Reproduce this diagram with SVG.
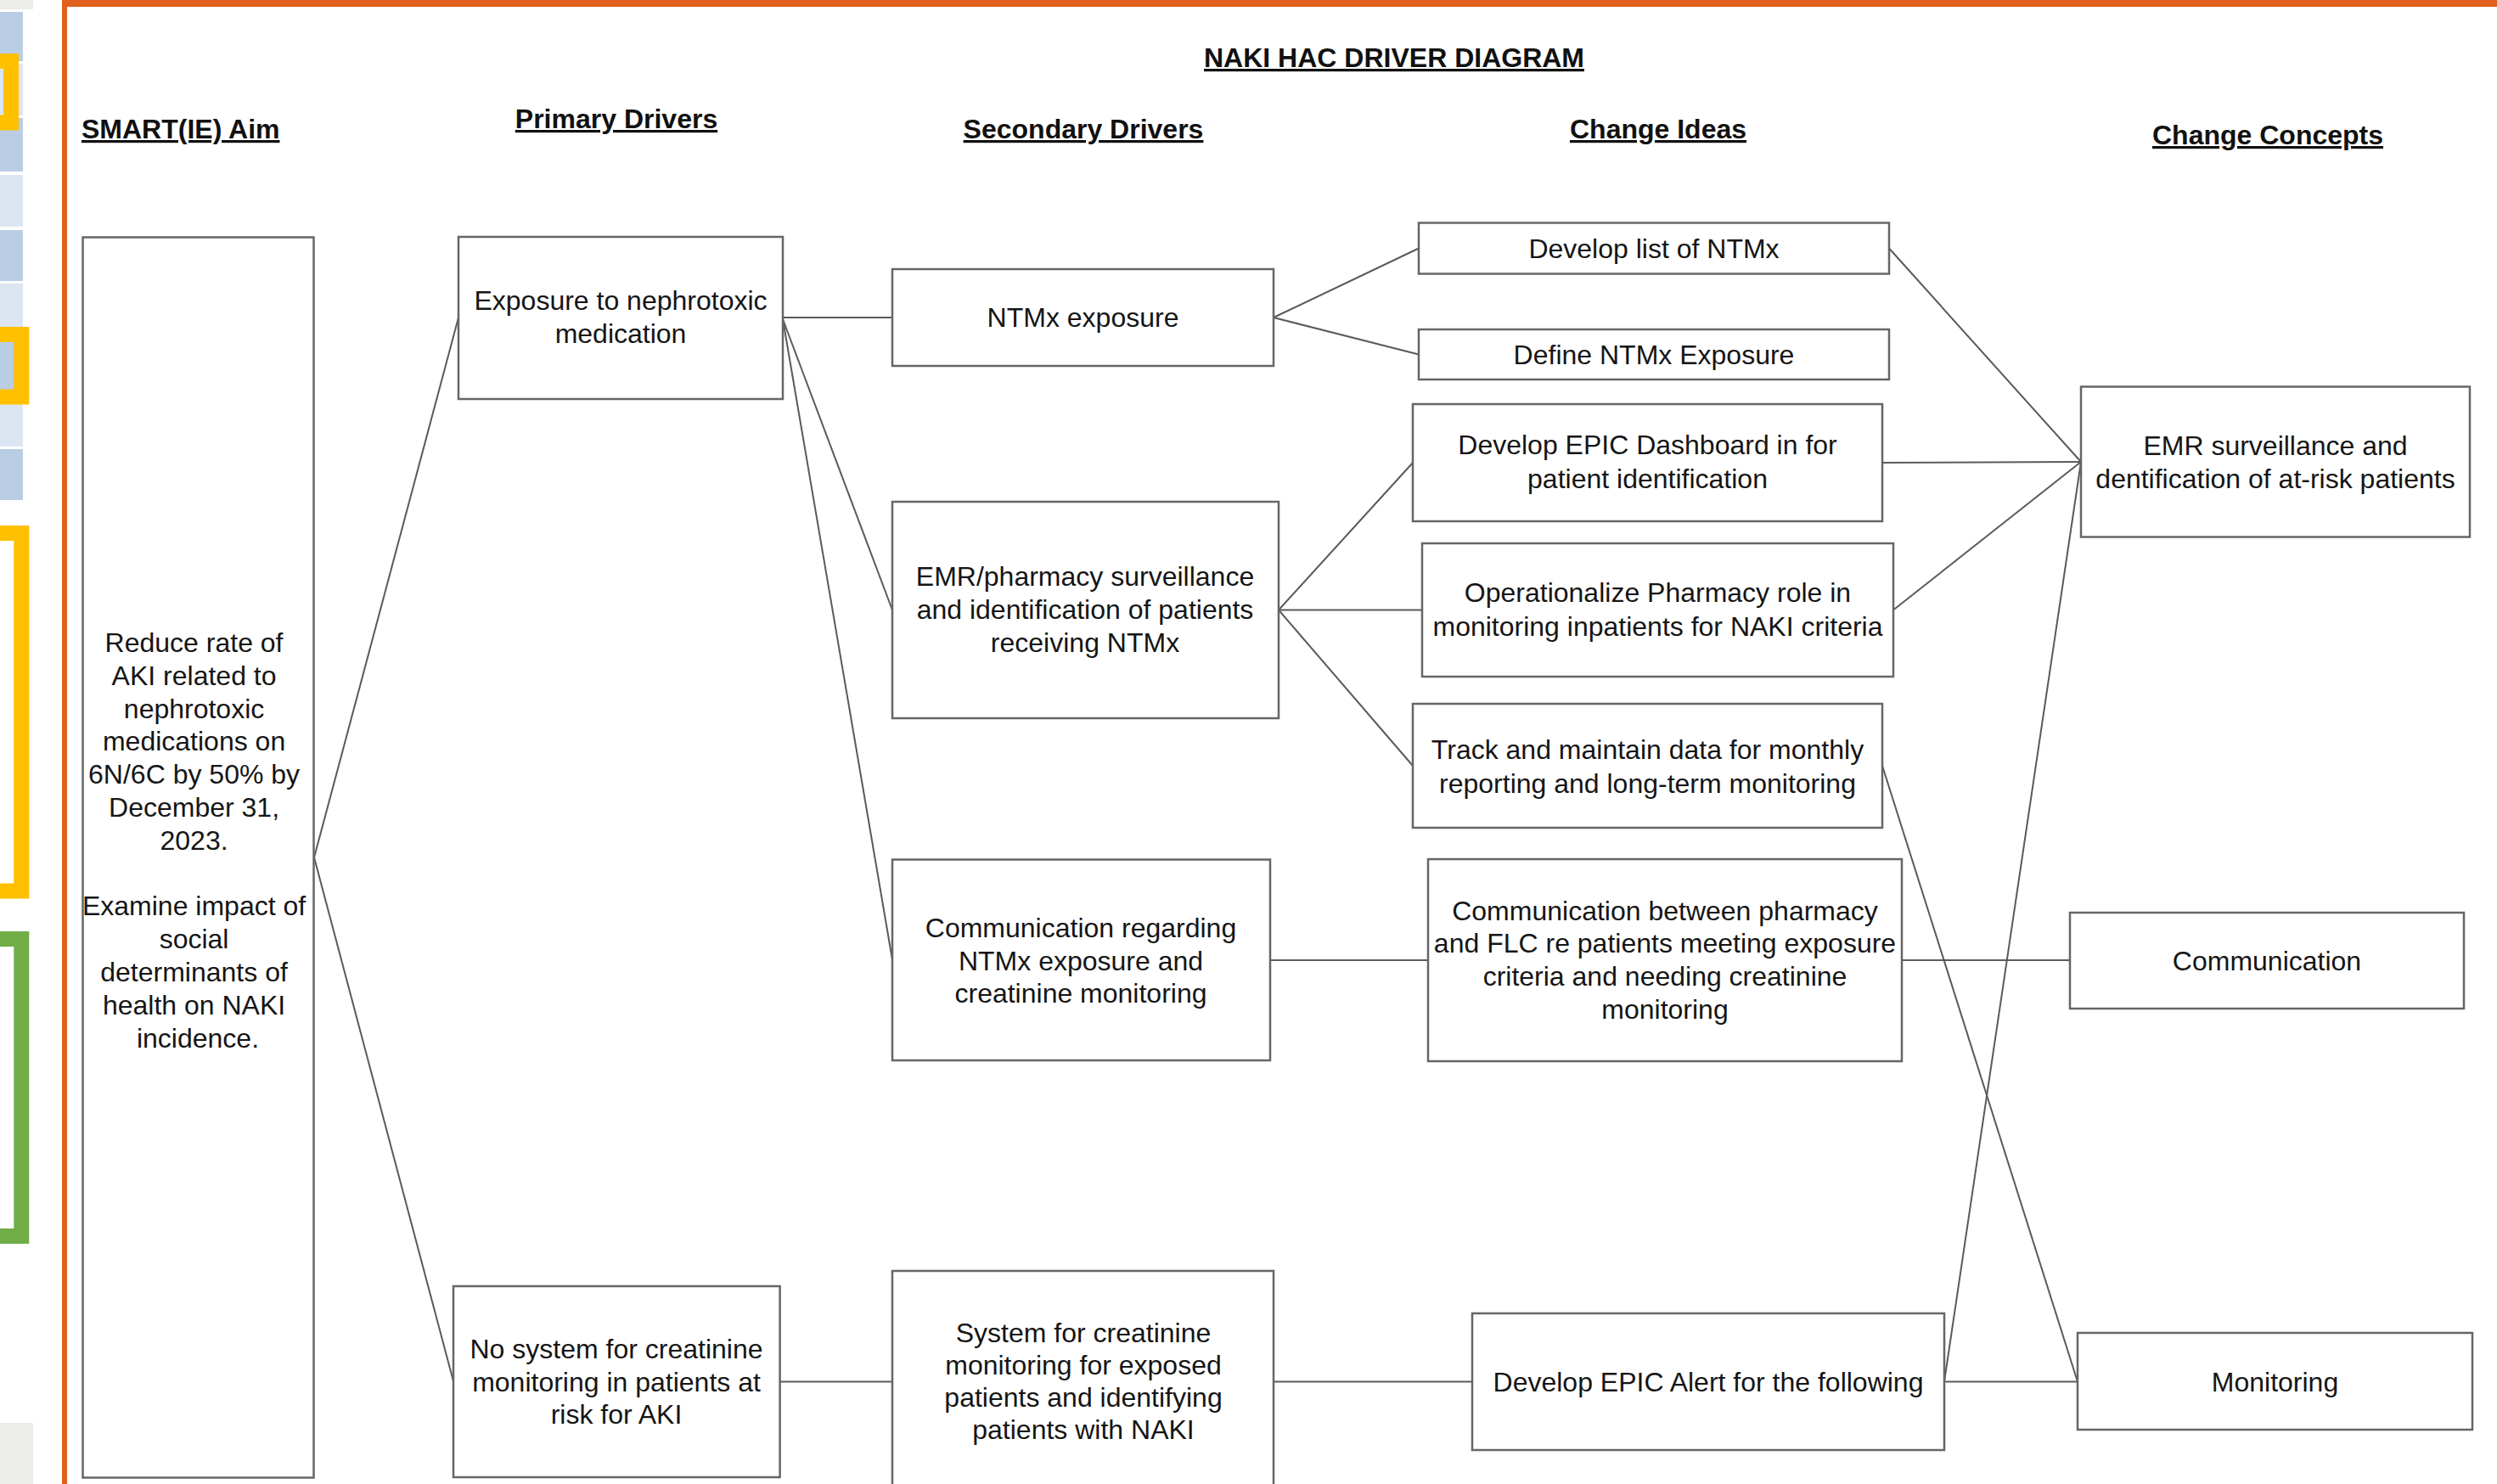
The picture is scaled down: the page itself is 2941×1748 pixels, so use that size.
<svg xmlns="http://www.w3.org/2000/svg" width="2941" height="1748" viewBox="0 0 2941 1748">
  <style>
    .box { fill: #ffffff; stroke: #666666; stroke-width: 2.5; }
    .edge { stroke: #5a5a5a; stroke-width: 2; fill: none; }
    .lbl { font-family: "Liberation Sans", Arial, sans-serif; font-size: 32px; fill: #151515; text-anchor: middle; }
    .hdr { font-family: "Liberation Sans", Arial, sans-serif; font-size: 32px; font-weight: bold; fill: #111111; text-decoration: underline; }
    .cellA { fill: #b9cde5; }
    .cellB { fill: #dce6f2; }
    .brkY { fill: none; stroke: #ffc000; stroke-width: 18; }
    .brkG { fill: none; stroke: #70ad47; stroke-width: 18; }
  </style>

  <rect x="0" y="0" width="2941" height="1748" fill="#ffffff"/>

  <!-- side strip -->
  <g id="side-strip">
    <rect x="0" y="0" width="39" height="11" fill="#ececea"/>
    <rect class="cellA" x="0" y="14" width="27" height="58"/>
    <rect class="cellB" x="0" y="75" width="27" height="61"/>
    <rect class="cellA" x="0" y="139" width="27" height="63"/>
    <rect class="cellB" x="0" y="206" width="27" height="61"/>
    <rect class="cellA" x="0" y="271" width="27" height="60"/>
    <rect class="cellB" x="0" y="334" width="27" height="61"/>
    <rect class="cellA" x="0" y="398" width="27" height="62"/>
    <rect class="cellB" x="0" y="463" width="27" height="63"/>
    <rect class="cellA" x="0" y="529" width="27" height="60"/>
    <rect class="brkY" x="-60" y="72" width="73" height="72.5"/>
    <rect class="brkY" x="-60" y="394" width="85.3" height="73.5"/>
    <rect class="brkY" x="-60" y="628" width="85.3" height="421.5"/>
    <rect class="brkG" x="-60" y="1106" width="85.3" height="350"/>
    <rect x="0" y="1676" width="39" height="72" fill="#ececea"/>
  </g>

  <!-- page frame -->
  <rect x="73" y="0" width="6" height="1748" fill="#e0601e"/>
  <rect x="73" y="0" width="2868" height="8" fill="#e0601e"/>

  <!-- column headings -->
  <g id="headings">
    <text class="hdr" x="1642" y="79" text-anchor="middle">NAKI HAC DRIVER DIAGRAM</text>
    <text class="hdr" x="96" y="163">SMART(IE) Aim</text>
    <text class="hdr" x="726" y="151" text-anchor="middle">Primary Drivers</text>
    <text class="hdr" x="1276" y="163" text-anchor="middle">Secondary Drivers</text>
    <text class="hdr" x="1953" y="163" text-anchor="middle">Change Ideas</text>
    <text class="hdr" x="2671" y="170" text-anchor="middle">Change Concepts</text>
  </g>

  <!-- connectors -->
  <g id="connectors">
    <line class="edge" x1="370" y1="1010" x2="540" y2="374"/>
    <line class="edge" x1="370" y1="1010" x2="534" y2="1627"/>
    <line class="edge" x1="922" y1="374" x2="1051" y2="374"/>
    <line class="edge" x1="922" y1="376" x2="1051" y2="718.5"/>
    <line class="edge" x1="922" y1="376" x2="1051" y2="1130.5"/>
    <line class="edge" x1="1500" y1="374" x2="1671" y2="292.5"/>
    <line class="edge" x1="1500" y1="374" x2="1671" y2="417.5"/>
    <line class="edge" x1="1506" y1="718.5" x2="1664" y2="545"/>
    <line class="edge" x1="1506" y1="718.5" x2="1675" y2="718.5"/>
    <line class="edge" x1="1506" y1="718.5" x2="1664" y2="902"/>
    <line class="edge" x1="1496" y1="1131" x2="1682" y2="1131"/>
    <line class="edge" x1="918.6" y1="1627.5" x2="1051" y2="1627.5"/>
    <line class="edge" x1="1500" y1="1627.5" x2="1734" y2="1627.5"/>
    <line class="edge" x1="2225" y1="292.5" x2="2451" y2="544"/>
    <line class="edge" x1="2217" y1="545" x2="2451" y2="544"/>
    <line class="edge" x1="2230" y1="718.5" x2="2451" y2="544"/>
    <line class="edge" x1="2290" y1="1627.5" x2="2451" y2="544"/>
    <line class="edge" x1="2217" y1="902" x2="2447" y2="1627.5"/>
    <line class="edge" x1="2240" y1="1131" x2="2438" y2="1131"/>
    <line class="edge" x1="2290" y1="1627.5" x2="2447" y2="1627.5"/>
  </g>

  <!-- aim -->
  <g id="aim">
    <rect class="box" x="97.5" y="279.5" width="272" height="1461"/>
    <text class="lbl">
      <tspan x="233" y="768">Reduce rate of</tspan>
      <tspan x="233" y="806.8">AKI related to</tspan>
      <tspan x="233" y="845.6">nephrotoxic</tspan>
      <tspan x="233" y="884.4">medications on</tspan>
      <tspan x="233" y="923.2">6N/6C by 50% by</tspan>
      <tspan x="233" y="962">December 31,</tspan>
      <tspan x="233" y="1000.8">2023.</tspan>
      <tspan x="233" y="1078.4">Examine impact of</tspan>
      <tspan x="233" y="1117.2">social</tspan>
      <tspan x="233" y="1156">determinants of</tspan>
      <tspan x="233" y="1194.8">health on NAKI</tspan>
      <tspan x="233" y="1233.6">incidence.</tspan>
    </text>
  </g>

  <!-- primary drivers -->
  <g id="pd-exposure">
    <rect class="box" x="540" y="279" width="382" height="191"/>
    <text class="lbl"><tspan x="731" y="365">Exposure to nephrotoxic</tspan><tspan x="731" y="404">medication</tspan></text>
  </g>
  <g id="pd-no-system">
    <rect class="box" x="534" y="1515" width="384.6" height="225"/>
    <text class="lbl"><tspan x="726" y="1600">No system for creatinine</tspan><tspan x="726" y="1638.5">monitoring in patients at</tspan><tspan x="726" y="1677">risk for AKI</tspan></text>
  </g>

  <!-- secondary drivers -->
  <g id="sd-ntmx-exposure">
    <rect class="box" x="1051" y="317" width="449" height="114"/>
    <text class="lbl" x="1275.5" y="385">NTMx exposure</text>
  </g>
  <g id="sd-emr-pharmacy">
    <rect class="box" x="1051" y="591" width="455" height="255"/>
    <text class="lbl"><tspan x="1278" y="690">EMR/pharmacy surveillance</tspan><tspan x="1278" y="729">and identification of patients</tspan><tspan x="1278" y="768">receiving NTMx</tspan></text>
  </g>
  <g id="sd-communication">
    <rect class="box" x="1051" y="1012.5" width="445" height="236.5"/>
    <text class="lbl"><tspan x="1273" y="1104">Communication regarding</tspan><tspan x="1273" y="1142.5">NTMx exposure and</tspan><tspan x="1273" y="1181">creatinine monitoring</tspan></text>
  </g>
  <g id="sd-creatinine-system">
    <rect class="box" x="1051" y="1497" width="449" height="270"/>
    <text class="lbl"><tspan x="1276" y="1581">System for creatinine</tspan><tspan x="1276" y="1619">monitoring for exposed</tspan><tspan x="1276" y="1657">patients and identifying</tspan><tspan x="1276" y="1695">patients with NAKI</tspan></text>
  </g>

  <!-- change ideas -->
  <g id="ci-list">
    <rect class="box" x="1671" y="262.5" width="554" height="60"/>
    <text class="lbl" x="1948" y="304">Develop list of NTMx</text>
  </g>
  <g id="ci-define">
    <rect class="box" x="1671" y="388" width="554" height="59"/>
    <text class="lbl" x="1948" y="429">Define NTMx Exposure</text>
  </g>
  <g id="ci-dashboard">
    <rect class="box" x="1664" y="476" width="553" height="138"/>
    <text class="lbl"><tspan x="1940.5" y="535">Develop EPIC Dashboard in for</tspan><tspan x="1940.5" y="575">patient identification</tspan></text>
  </g>
  <g id="ci-pharmacy-role">
    <rect class="box" x="1675" y="640" width="555" height="157"/>
    <text class="lbl"><tspan x="1952.5" y="709">Operationalize Pharmacy role in</tspan><tspan x="1952.5" y="748.5">monitoring inpatients for NAKI criteria</tspan></text>
  </g>
  <g id="ci-track-data">
    <rect class="box" x="1664" y="829" width="553" height="146"/>
    <text class="lbl"><tspan x="1940.5" y="894">Track and maintain data for monthly</tspan><tspan x="1940.5" y="934">reporting and long-term monitoring</tspan></text>
  </g>
  <g id="ci-pharmacy-flc">
    <rect class="box" x="1682" y="1012" width="558" height="238"/>
    <text class="lbl"><tspan x="1961" y="1083.5">Communication between pharmacy</tspan><tspan x="1961" y="1122">and FLC re patients meeting exposure</tspan><tspan x="1961" y="1161">criteria and needing creatinine</tspan><tspan x="1961" y="1200">monitoring</tspan></text>
  </g>
  <g id="ci-epic-alert">
    <rect class="box" x="1734" y="1547" width="556" height="161"/>
    <text class="lbl" x="2012" y="1639">Develop EPIC Alert for the following</text>
  </g>

  <!-- change concepts -->
  <g id="cc-emr-surveillance">
    <rect class="box" x="2451" y="455.5" width="458" height="177"/>
    <text class="lbl"><tspan x="2680" y="536">EMR surveillance and</tspan><tspan x="2680" y="575">dentification of at-risk patients</tspan></text>
  </g>
  <g id="cc-communication">
    <rect class="box" x="2438" y="1075" width="464" height="113"/>
    <text class="lbl" x="2670" y="1142.5">Communication</text>
  </g>
  <g id="cc-monitoring">
    <rect class="box" x="2447" y="1570" width="465" height="114"/>
    <text class="lbl" x="2679.5" y="1639">Monitoring</text>
  </g>
</svg>
